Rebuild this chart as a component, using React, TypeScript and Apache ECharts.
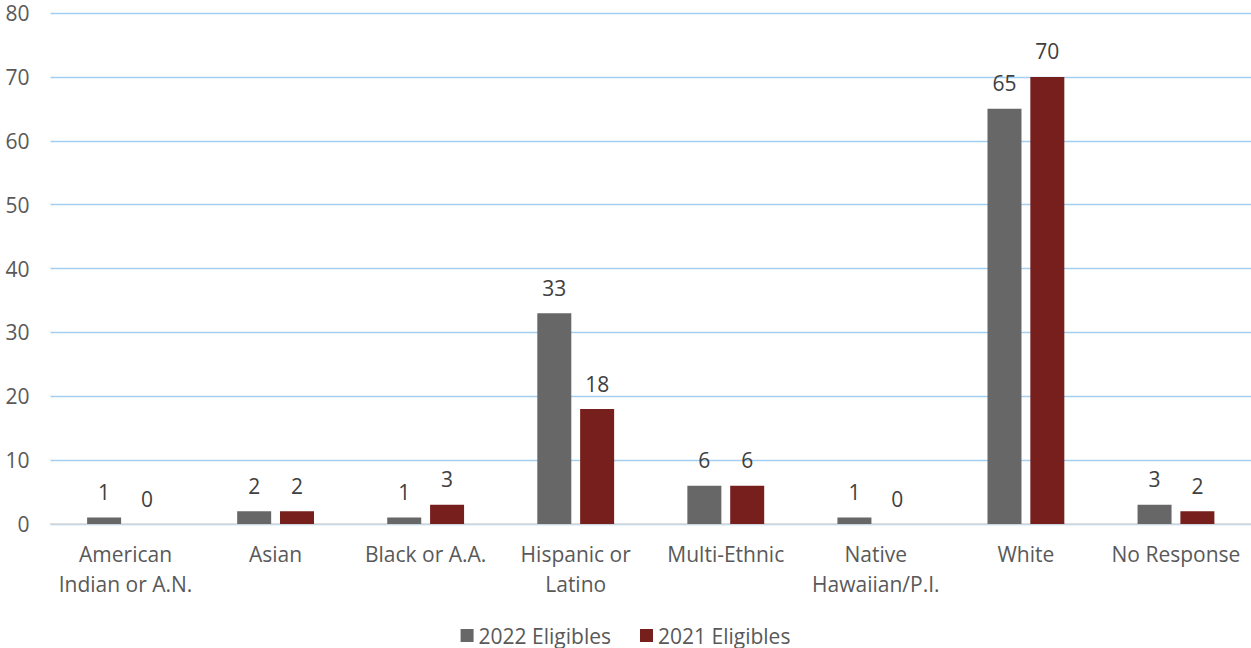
import React, { useEffect, useRef } from "react";
import * as echarts from "echarts";

const categories = [
  "American\nIndian or A.N.",
  "Asian",
  "Black or A.A.",
  "Hispanic or\nLatino",
  "Multi-Ethnic",
  "Native\nHawaiian/P.I.",
  "White",
  "No Response",
];
const eligibles2022 = [1, 2, 1, 33, 6, 1, 65, 3];
const eligibles2021 = [0, 2, 3, 18, 6, 0, 70, 2];

const FONT = "'Open Sans', 'Noto Sans', sans-serif";
const FS = 21;

export default function App() {
  const ref = useRef<HTMLDivElement>(null);

  useEffect(() => {
    document.body.style.margin = "0";
    const chart = echarts.init(ref.current!, null, { renderer: "svg" });
    const label = {
      show: true,
      position: "top" as const,
      distance: 15,
      color: "#404040",
      fontSize: FS,
      fontFamily: FONT,
    };
    chart.setOption({
      animation: false,
      backgroundColor: "#ffffff",
      textStyle: { fontFamily: FONT },
      grid: { left: 50.5, right: -3, top: 13, bottom: 124 },
      legend: {
        bottom: -3,
        left: "center",
        itemWidth: 13,
        itemHeight: 13,
        itemGap: 29,
        icon: "rect",
        textStyle: { color: "#595959", fontSize: FS, fontFamily: FONT },
        data: ["2022 Eligibles", "2021 Eligibles"],
      },
      xAxis: {
        type: "category",
        data: categories,
        axisLine: { lineStyle: { color: "#d9d9d9", width: 1.5 } },
        axisTick: { show: false },
        axisLabel: {
          color: "#595959",
          fontSize: FS,
          fontFamily: FONT,
          lineHeight: 30,
          margin: 15,
          interval: 0,
        },
      },
      yAxis: {
        type: "value",
        min: 0,
        max: 80,
        interval: 10,
        axisLine: { show: false },
        axisTick: { show: false },
        axisLabel: {
          color: "#595959",
          fontSize: FS,
          fontFamily: FONT,
          margin: 21,
        },
        splitLine: { lineStyle: { color: "#a3cff2", width: 1.3 } },
      },
      series: [
        {
          name: "2022 Eligibles",
          type: "bar",
          data: eligibles2022,
          barWidth: 34,
          barGap: "26%",
          itemStyle: { color: "#676767" },
          label,
        },
        {
          name: "2021 Eligibles",
          type: "bar",
          data: eligibles2021,
          barWidth: 34,
          itemStyle: { color: "#761f1d" },
          label,
        },
      ],
    });
    return () => chart.dispose();
  }, []);

  return <div ref={ref} style={{ width: 1251, height: 648 }} />;
}
